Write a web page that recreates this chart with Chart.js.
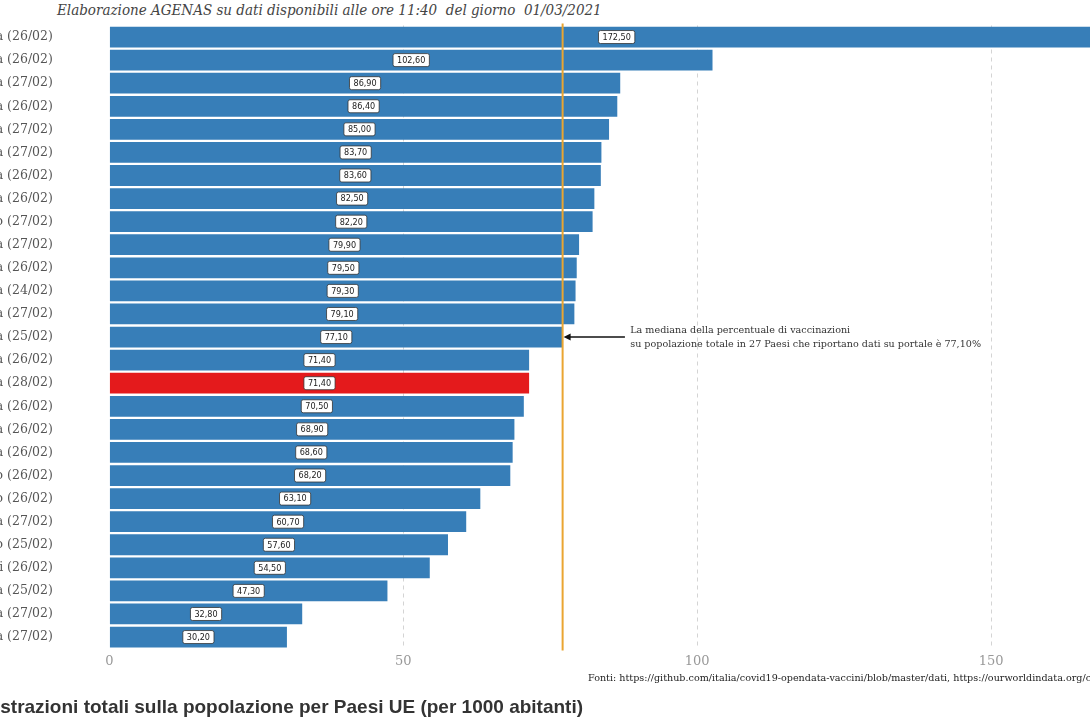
<!DOCTYPE html>
<html>
<head>
<meta charset="utf-8">
<script src="https://cdn.jsdelivr.net/npm/chart.js@4/dist/chart.umd.min.js"></script>
<style>
  html, body { margin: 0; padding: 0; background: #fff; overflow: hidden; width: 1090px; height: 727px; }
  #wrap { position: absolute; left: -300px; top: 0; width: 1440px; height: 700px; }
  .txt { position: absolute; white-space: nowrap; }
  #title { left: 57px; top: 1px; font: italic 15px "DejaVu Serif Condensed", "DejaVu Serif", serif; color: #444; }
  #fonti { left: 588px; top: 672px; font: 9.6px "DejaVu Serif", serif; color: #222; }
  #footer { top: 696px; font: bold 19px "Liberation Sans", Arial, sans-serif; color: #333; }
</style>
</head>
<body>
<div id="title" class="txt">Elaborazione AGENAS su dati disponibili alle ore 11:40&nbsp; del giorno&nbsp; 01/03/2021</div>
<div id="wrap"><canvas id="chart"></canvas></div>
<div id="fonti" class="txt">Fonti: https://github.com/italia/covid19-opendata-vaccini/blob/master/dati, https://ourworldindata.org/covid-vaccinations</div>
<div id="footer" class="txt"><span id="cut">Sommini</span>strazioni totali sulla popolazione per Paesi UE (per 1000 abitanti)</div>
<script>
const countries = ['Malta', 'Ungheria', 'Danimarca', 'Slovenia', 'Romania', 'Polonia', 'Spagna', 'Lituania',
    'Portogallo', 'Estonia', 'Germania', 'Irlanda', 'Austria', 'Grecia', 'Finlandia', 'Italia', 'Svezia',
    'Repubblica Ceca', 'Francia', 'Lussemburgo', 'Belgio', 'Slovacchia', 'Cipro', 'Paesi Bassi',
    'Croazia', 'Lettonia', 'Bulgaria'];
const dates = ['26/02', '26/02', '27/02', '26/02', '27/02', '27/02', '26/02', '26/02', '27/02', '27/02',
    '26/02', '24/02', '27/02', '25/02', '26/02', '28/02', '26/02', '26/02', '26/02', '26/02', '26/02',
    '27/02', '25/02', '26/02', '25/02', '27/02', '27/02'];
const values = [172.5, 102.6, 86.9, 86.4, 85.0, 83.7, 83.6, 82.5, 82.2, 79.9, 79.5, 79.3, 79.1, 77.1,
    71.4, 71.4, 70.5, 68.9, 68.6, 68.2, 63.1, 60.7, 57.6, 54.5, 47.3, 32.8, 30.2];
const xTicks = [0, 50, 100, 150];
const median = 77.1;
const highlight = 'Italia';
const noteLines = [
    'La mediana della percentuale di vaccinazioni',
    'su popolazione totale in 27 Paesi che riportano dati su portale è 77,10%',
];

const labels = countries.map((c, i) => `${c} (${dates[i]})`);
const barColors = countries.map((c) => (c === highlight ? '#e41a1c' : '#377eb8'));

const fmt = (v) => v.toFixed(2).replace('.', ',');

const overlay = {
    id: 'overlay',
    afterDatasetsDraw(chart) {
        const { ctx, chartArea, scales } = chart;
        const x = scales.x;
        const y = scales.y;
        ctx.save();

        // median line
        const mx = x.getPixelForValue(median);
        ctx.strokeStyle = '#eaa531';
        ctx.lineWidth = 2;
        ctx.beginPath();
        ctx.moveTo(mx, chartArea.top - 2);
        ctx.lineTo(mx, chartArea.bottom + 2);
        ctx.stroke();

        // value boxes
        ctx.font = '9px "DejaVu Sans Condensed", "DejaVu Sans", sans-serif';
        ctx.textAlign = 'center';
        ctx.textBaseline = 'middle';
        chart.getDatasetMeta(0).data.forEach((bar, i) => {
            const txt = fmt(values[i]);
            const cx = (bar.x + bar.base) / 2;
            const w = ctx.measureText(txt).width + 8;
            const h = 13;
            ctx.beginPath();
            ctx.roundRect(cx - w / 2, bar.y - h / 2, w, h, 2);
            ctx.fillStyle = '#fff';
            ctx.fill();
            ctx.strokeStyle = '#333';
            ctx.lineWidth = 0.8;
            ctx.stroke();
            ctx.fillStyle = '#1a1a1a';
            ctx.fillText(txt, cx, bar.y + 0.5);
        });

        // arrow + note
        const row = values.indexOf(median);
        const ay = y.getPixelForValue(row);
        const tail = x.getPixelForValue(87.7);
        const head = mx + 1;
        ctx.strokeStyle = '#111';
        ctx.fillStyle = '#111';
        ctx.lineWidth = 1.4;
        ctx.beginPath();
        ctx.moveTo(tail, ay);
        ctx.lineTo(head + 5, ay);
        ctx.stroke();
        ctx.beginPath();
        ctx.moveTo(head, ay);
        ctx.lineTo(head + 7, ay - 3.5);
        ctx.lineTo(head + 7, ay + 3.5);
        ctx.closePath();
        ctx.fill();

        ctx.font = '9.6px "DejaVu Serif", serif';
        ctx.fillStyle = '#333';
        ctx.textAlign = 'left';
        const tx = x.getPixelForValue(88.6);
        ctx.fillText(noteLines[0], tx, ay - 7);
        ctx.fillText(noteLines[1], tx, ay + 7.5);

        ctx.restore();
    },
};

new Chart(document.getElementById('chart'), {
    type: 'bar',
    data: {
        labels,
        datasets: [
            {
                data: values,
                backgroundColor: barColors,
                borderWidth: 0,
                categoryPercentage: 1,
                barPercentage: 0.9,
            },
        ],
    },
    options: {
        indexAxis: 'y',
        responsive: true,
        maintainAspectRatio: false,
        animation: false,
        layout: { padding: { top: 25.5, right: 1.9, bottom: 0, left: 0 } },
        plugins: { legend: { display: false }, tooltip: { enabled: false } },
        scales: {
            x: {
                min: 0,
                max: 175,
                afterBuildTicks: (scale) => {
                    scale.ticks = xTicks.map((v) => ({ value: v }));
                },
                afterFit: (scale) => {
                    scale.height = 51.4;
                    scale.paddingLeft = 0;
                    scale.paddingRight = 0;
                },
                ticks: {
                    color: '#999',
                    padding: 5,
                    font: { family: '"DejaVu Serif", serif', size: 13 },
                },
                grid: {
                    drawTicks: false,
                    color: (c) => (c.tick && c.tick.value === 0 ? 'rgba(0,0,0,0)' : '#d4d4d4'),
                    lineWidth: 1,
                },
                border: { display: false, dash: [4, 4] },
            },
            y: {
                afterFit: (scale) => {
                    scale.width = 409.4;
                    scale.paddingTop = 0;
                    scale.paddingBottom = 0;
                },
                ticks: {
                    color: '#555',
                    padding: 2,
                    font: { family: '"DejaVu Serif", serif', size: 12.5 },
                },
                grid: { display: false, drawTicks: true, tickLength: 54.5 },
                border: { display: false },
            },
        },
    },
    plugins: [overlay],
});

const cut = document.getElementById('cut');
document.getElementById('footer').style.left = -cut.offsetWidth + 'px';
</script>
</body>
</html>
